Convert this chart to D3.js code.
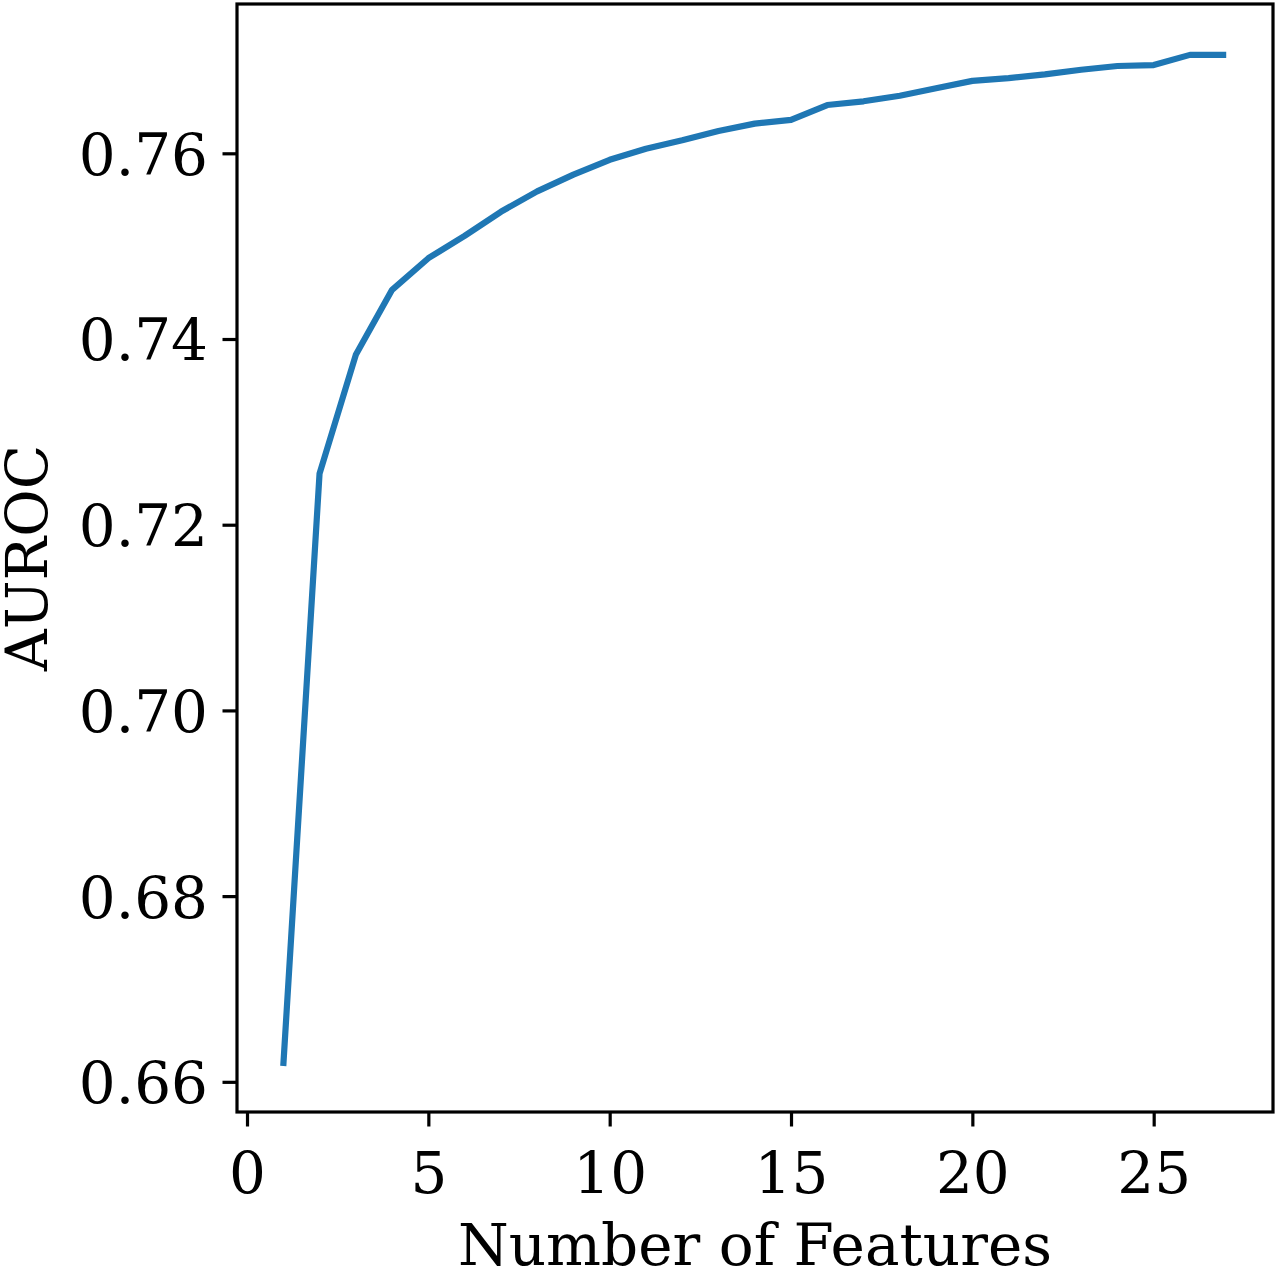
<!DOCTYPE html>
<html>
<head>
<meta charset="utf-8">
<script src="https://cdn.jsdelivr.net/npm/d3@7"></script>
<style>
  body { margin: 0; background: #fff; }
  text { font-family: 'DejaVu Serif', serif; }
</style>
</head>
<body>
<svg id="chart" width="1280" height="1272"></svg>
<script>
// number of features used
const features = [1, 2, 3, 4, 5, 6, 7, 8, 9, 10, 11, 12, 13, 14, 15, 16, 17, 18, 19, 20, 21, 22, 23, 24, 25, 26, 27];
// AUROC
const auroc = [0.6617, 0.7255, 0.7383, 0.7453, 0.7487, 0.7511, 0.7537, 0.7559, 0.7577, 0.7593,
  0.7605, 0.7614, 0.7624, 0.7632, 0.7636, 0.7652, 0.7656, 0.7662, 0.7670, 0.7678,
  0.7681, 0.7685, 0.7690, 0.7694, 0.7695, 0.7706, 0.7706];
const xTicks = [0, 5, 10, 15, 20, 25];
const yTicks = [0.66, 0.68, 0.70, 0.72, 0.74, 0.76];

const margin = { top: 4, right: 7, bottom: 160, left: 237 };
const svg = d3.select('#chart');
const width = +svg.attr('width');
const height = +svg.attr('height');

const x = d3.scaleLinear()
  .domain([-0.276, 28.29])
  .range([margin.left, width - margin.right]);

const y = d3.scaleLinear()
  .domain([0.65675, 0.77608])
  .range([height - margin.bottom, margin.top]);

const data = features.map((f, i) => ({ n: f, v: auroc[i] }));

// line
svg.append('path')
  .datum(data)
  .attr('fill', 'none')
  .attr('stroke', '#1f77b4')
  .attr('stroke-width', 6.2)
  .attr('stroke-linejoin', 'round')
  .attr('d', d3.line().x(d => x(d.n)).y(d => y(d.v)));

// x axis
svg.append('g')
  .attr('transform', `translate(0,${height - margin.bottom})`)
  .call(d3.axisBottom(x).tickValues(xTicks).tickSize(14.5).tickSizeOuter(0).tickFormat(d3.format('d')))
  .call(g => g.select('.domain').remove())
  .call(g => g.selectAll('.tick line').attr('stroke-width', 3.2))
  .call(g => g.selectAll('.tick text')
    .attr('y', 81).attr('dy', 0)
    .attr('font-size', 58).attr('font-family', 'DejaVu Serif').attr('fill', '#000'));

// y axis
svg.append('g')
  .attr('transform', `translate(${margin.left},0)`)
  .call(d3.axisLeft(y).tickValues(yTicks).tickSize(14.5).tickSizeOuter(0).tickFormat(d3.format('.2f')))
  .call(g => g.select('.domain').remove())
  .call(g => g.selectAll('.tick line').attr('stroke-width', 3.2))
  .call(g => g.selectAll('.tick text')
    .attr('x', -29).attr('dy', '0.36em')
    .attr('font-size', 58).attr('font-family', 'DejaVu Serif').attr('fill', '#000'));

// frame
svg.append('rect')
  .attr('x', margin.left)
  .attr('y', margin.top)
  .attr('width', width - margin.left - margin.right)
  .attr('height', height - margin.top - margin.bottom)
  .attr('fill', 'none')
  .attr('stroke', '#000')
  .attr('stroke-width', 3.2);

svg.append('text')
  .attr('x', (margin.left + width - margin.right) / 2)
  .attr('y', 1265)
  .attr('text-anchor', 'middle')
  .attr('font-size', 58)
  .text('Number of Features');

svg.append('text')
  .attr('transform', `translate(47,${(margin.top + height - margin.bottom) / 2})rotate(-90)`)
  .attr('text-anchor', 'middle')
  .attr('font-size', 58)
  .text('AUROC');
</script>
</body>
</html>
